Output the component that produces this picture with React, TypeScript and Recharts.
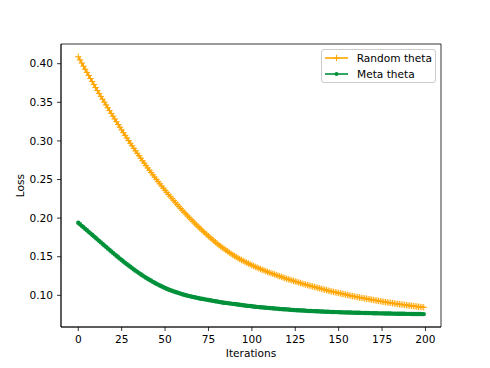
import { Legend, Line, LineChart, ReferenceArea, XAxis, YAxis } from "recharts";

const RANDOM_COLOR = "#ffa500";
const META_COLOR = "#00913a";
const FONT = "'DejaVu Sans', sans-serif";

// loss per iteration
const RANDOM_THETA = [
  0.409, 0.4049, 0.4008, 0.3968, 0.3928, 0.3888, 0.3848, 0.3808, 0.3769, 0.373,
  0.3691, 0.3653, 0.3615, 0.3577, 0.354, 0.3503, 0.3466, 0.3429, 0.3392, 0.3356,
  0.332, 0.3284, 0.3248, 0.3212, 0.3177, 0.3142, 0.3107, 0.3072, 0.3038, 0.3004,
  0.297, 0.2937, 0.2904, 0.2871, 0.2839, 0.2807, 0.2775, 0.2743, 0.2712, 0.2681,
  0.265, 0.262, 0.259, 0.256, 0.2531, 0.2502, 0.2473, 0.2444, 0.2416, 0.2388,
  0.236, 0.2333, 0.2306, 0.2279, 0.2253, 0.2227, 0.2201, 0.2175, 0.215, 0.2125,
  0.21, 0.2076, 0.2052, 0.2028, 0.2005, 0.1982, 0.1959, 0.1936, 0.1914, 0.1892,
  0.187, 0.1849, 0.1828, 0.1807, 0.1787, 0.1767, 0.1747, 0.1727, 0.1708, 0.1689,
  0.167, 0.1652, 0.1635, 0.1618, 0.1602, 0.1586, 0.157, 0.1554, 0.1539, 0.1524,
  0.151, 0.1496, 0.1483, 0.147, 0.1458, 0.1446, 0.1434, 0.1423, 0.1412, 0.1401,
  0.139, 0.138, 0.137, 0.136, 0.135, 0.134, 0.1331, 0.1322, 0.1313, 0.1304,
  0.1295, 0.1287, 0.1279, 0.1271, 0.1263, 0.1255, 0.1247, 0.1239, 0.1231, 0.1223,
  0.1215, 0.1208, 0.1201, 0.1194, 0.1187, 0.118, 0.1173, 0.1166, 0.1159, 0.1152,
  0.1145, 0.1139, 0.1133, 0.1127, 0.1121, 0.1115, 0.1109, 0.1103, 0.1097, 0.1091,
  0.1085, 0.1079, 0.1073, 0.1067, 0.1061, 0.1055, 0.105, 0.1045, 0.104, 0.1035,
  0.103, 0.1025, 0.102, 0.1015, 0.101, 0.1005, 0.1, 0.0995, 0.099, 0.0986,
  0.0982, 0.0977, 0.0972, 0.0968, 0.0964, 0.096, 0.0956, 0.0952, 0.0948, 0.0944,
  0.094, 0.0936, 0.0932, 0.0928, 0.0924, 0.092, 0.0916, 0.0912, 0.0909, 0.0906,
  0.0903, 0.0899, 0.0895, 0.0891, 0.0888, 0.0885, 0.0882, 0.0879, 0.0876, 0.0873,
  0.087, 0.0867, 0.0864, 0.0861, 0.0858, 0.0855, 0.0852, 0.0849, 0.0847, 0.0845,
];

const META_THETA = [
  0.194, 0.192, 0.19, 0.1881, 0.1861, 0.1842, 0.1822, 0.1803, 0.1784, 0.1764,
  0.1745, 0.1725, 0.1706, 0.1686, 0.1667, 0.1647, 0.1628, 0.1608, 0.1589, 0.1569,
  0.155, 0.1531, 0.1512, 0.1493, 0.1475, 0.1457, 0.1439, 0.1421, 0.1404, 0.1387,
  0.137, 0.1353, 0.1336, 0.132, 0.1304, 0.1288, 0.1273, 0.1258, 0.1243, 0.1229,
  0.1215, 0.1201, 0.1188, 0.1175, 0.1163, 0.1151, 0.1139, 0.1128, 0.1117, 0.1106,
  0.1095, 0.1085, 0.1076, 0.1067, 0.1059, 0.1051, 0.1043, 0.1036, 0.1029, 0.1022,
  0.1015, 0.1008, 0.1002, 0.0996, 0.099, 0.0985, 0.098, 0.0975, 0.097, 0.0965,
  0.096, 0.0956, 0.0952, 0.0948, 0.0944, 0.094, 0.0936, 0.0932, 0.0928, 0.0924,
  0.092, 0.0916, 0.0912, 0.0908, 0.0905, 0.0902, 0.0899, 0.0896, 0.0893, 0.089,
  0.0887, 0.0884, 0.0881, 0.0878, 0.0875, 0.0872, 0.0869, 0.0866, 0.0863, 0.0861,
  0.0859, 0.0856, 0.0853, 0.085, 0.0848, 0.0846, 0.0844, 0.0842, 0.084, 0.0838,
  0.0836, 0.0834, 0.0832, 0.083, 0.0828, 0.0826, 0.0824, 0.0822, 0.082, 0.0819,
  0.0818, 0.0816, 0.0814, 0.0812, 0.081, 0.0808, 0.0807, 0.0806, 0.0805, 0.0804,
  0.0803, 0.0801, 0.0799, 0.0798, 0.0797, 0.0796, 0.0795, 0.0794, 0.0793, 0.0792,
  0.0791, 0.079, 0.0789, 0.0788, 0.0787, 0.0786, 0.0785, 0.0784, 0.0783, 0.0783,
  0.0782, 0.0781, 0.078, 0.0779, 0.0779, 0.0778, 0.0777, 0.0777, 0.0776, 0.0776,
  0.0775, 0.0774, 0.0774, 0.0773, 0.0773, 0.0772, 0.0771, 0.0771, 0.077, 0.077,
  0.0769, 0.0768, 0.0768, 0.0767, 0.0767, 0.0766, 0.0766, 0.0765, 0.0765, 0.0764,
  0.0764, 0.0763, 0.0763, 0.0763, 0.0762, 0.0762, 0.0761, 0.0761, 0.0761, 0.076,
  0.076, 0.076, 0.0759, 0.0759, 0.0759, 0.0758, 0.0758, 0.0758, 0.0757, 0.0757,
];

const X_TICKS = [0, 25, 50, 75, 100, 125, 150, 175, 200];
const Y_TICKS = [0.1, 0.15, 0.2, 0.25, 0.3, 0.35, 0.4];
const X_DOMAIN = [-9.95, 208.95];
const Y_DOMAIN = [0.059, 0.4255];
const SERIES_NAMES = ["Random theta", "Meta theta"];

const data = RANDOM_THETA.map((v, i) => ({
  it: i,
  random: v,
  meta: META_THETA[i],
}));

const tickStyle = { fontSize: 10.6, fill: "#000", fontFamily: FONT };

const PlusDot = (props: any) => {
  const { cx, cy, index } = props;
  if (cx == null || cy == null) return <g key={index} />;
  return (
    <path
      key={index}
      d={`M${cx - 3.2},${cy}h6.4M${cx},${cy - 3.2}v6.4`}
      stroke={RANDOM_COLOR}
      strokeWidth={1}
      fill="none"
    />
  );
};

const renderLegend = () => (
  <div
    style={{
      border: "1px solid #cccccc",
      borderRadius: 3,
      background: "rgba(255,255,255,0.8)",
      width: 115,
      boxSizing: "border-box",
      padding: "0 3px",
      fontFamily: FONT,
      fontSize: 10.6,
      color: "#000",
    }}
  >
    {SERIES_NAMES.map((name, i) => (
      <div key={name} style={{ display: "flex", alignItems: "center", height: 16 }}>
        <svg width={23} height={10} style={{ display: "block" }}>
          <line
            x1={0}
            y1={5}
            x2={23}
            y2={5}
            stroke={i === 0 ? RANDOM_COLOR : META_COLOR}
            strokeWidth={1.6}
          />
          {i === 0 ? (
            <path d="M8.3,5h6.4M11.5,1.8v6.4" stroke={RANDOM_COLOR} strokeWidth={1} />
          ) : (
            <circle cx={11.5} cy={5} r={2} fill={META_COLOR} />
          )}
        </svg>
        <span style={{ marginLeft: 9, whiteSpace: "nowrap" }}>{name}</span>
      </div>
    ))}
  </div>
);

export default function App() {
  return (
    <div style={{ position: "absolute", left: 0, top: 0, width: 490, height: 368, background: "#fff" }}>
      <LineChart
        width={490}
        height={368}
        data={data}
        margin={{ top: 44, right: 49, bottom: 0, left: 0 }}
      >
        <XAxis
          dataKey="it"
          type="number"
          domain={X_DOMAIN}
          allowDataOverflow
          ticks={X_TICKS}
          height={41}
          tickSize={4}
          tickMargin={4}
          tick={tickStyle}
          stroke="#000"
          axisLine={{ stroke: "#000", strokeWidth: 0.8 }}
          tickLine={{ stroke: "#000", strokeWidth: 0.8 }}
          label={{
            value: "Iterations",
            position: "center",
            dy: 6,
            style: { fontSize: 10.6, fill: "#000", fontFamily: FONT },
          }}
        />
        <YAxis
          type="number"
          domain={Y_DOMAIN}
          allowDataOverflow
          ticks={Y_TICKS}
          width={61}
          tickSize={4}
          tickMargin={4}
          tick={tickStyle}
          tickFormatter={(v: number) => v.toFixed(2)}
          axisLine={{ stroke: "#000", strokeWidth: 0.8 }}
          tickLine={{ stroke: "#000", strokeWidth: 0.8 }}
          label={{
            value: "Loss",
            angle: -90,
            position: "center",
            dx: -10.5,
            style: { fontSize: 10.6, fill: "#000", fontFamily: FONT },
          }}
        />
        {/* full frame, matplotlib style */}
        <ReferenceArea
          x1={X_DOMAIN[0]}
          x2={X_DOMAIN[1]}
          y1={Y_DOMAIN[0]}
          y2={Y_DOMAIN[1]}
          fill="none"
          stroke="#000"
          strokeWidth={0.8}
          ifOverflow="visible"
        />
        <Legend
          layout="vertical"
          align="center"
          verticalAlign="middle"
          content={renderLegend}
          wrapperStyle={{ top: 49, left: 321, width: 115 }}
        />
        <Line
          dataKey="random"
          name="Random theta"
          stroke={RANDOM_COLOR}
          strokeWidth={1.6}
          dot={PlusDot}
          activeDot={false}
          isAnimationActive={false}
        />
        <Line
          dataKey="meta"
          name="Meta theta"
          stroke={META_COLOR}
          strokeWidth={1.6}
          dot={{ r: 2.2, fill: META_COLOR, stroke: "none" }}
          activeDot={false}
          isAnimationActive={false}
        />
      </LineChart>
    </div>
  );
}
